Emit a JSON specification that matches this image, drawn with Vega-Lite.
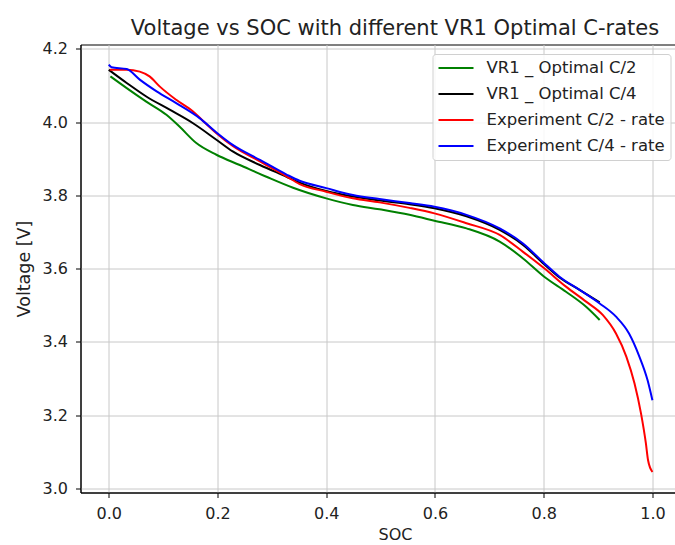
{
  "$schema": "https://vega.github.io/schema/vega-lite/v6.json",
  "autosize": {"type": "none"},
  "padding": {"left": 80.5, "top": 44.5, "right": 0, "bottom": 52.5},
  "width": 629,
  "height": 448,
  "background": "white",
  "config": {
    "font": "DejaVu Sans",
    "view": {"stroke": "#000000", "strokeWidth": 1},
    "axis": {
      "domainColor": "#000000",
      "tickColor": "#000000",
      "tickSize": 5,
      "labelFontSize": 16,
      "labelColor": "#222222",
      "titleFontSize": 16,
      "titleFontWeight": "normal",
      "titleColor": "#222222",
      "gridColor": "#c8c8c8",
      "gridWidth": 1
    }
  },
  "title": {
    "text": "Voltage vs SOC with different VR1 Optimal C-rates",
    "fontSize": 21,
    "fontWeight": "normal",
    "color": "#222222",
    "anchor": "middle",
    "offset": 2
  },
  "data": {
    "values": [
      {"series": "VR1 _ Optimal C/2", "soc": 0.003, "v": 4.125},
      {"series": "VR1 _ Optimal C/2", "soc": 0.033, "v": 4.093},
      {"series": "VR1 _ Optimal C/2", "soc": 0.069, "v": 4.056},
      {"series": "VR1 _ Optimal C/2", "soc": 0.106, "v": 4.020},
      {"series": "VR1 _ Optimal C/2", "soc": 0.130, "v": 3.988},
      {"series": "VR1 _ Optimal C/2", "soc": 0.161, "v": 3.943},
      {"series": "VR1 _ Optimal C/2", "soc": 0.198, "v": 3.911},
      {"series": "VR1 _ Optimal C/2", "soc": 0.241, "v": 3.883},
      {"series": "VR1 _ Optimal C/2", "soc": 0.290, "v": 3.851},
      {"series": "VR1 _ Optimal C/2", "soc": 0.339, "v": 3.821},
      {"series": "VR1 _ Optimal C/2", "soc": 0.400, "v": 3.792},
      {"series": "VR1 _ Optimal C/2", "soc": 0.449, "v": 3.774},
      {"series": "VR1 _ Optimal C/2", "soc": 0.498, "v": 3.762},
      {"series": "VR1 _ Optimal C/2", "soc": 0.553, "v": 3.747},
      {"series": "VR1 _ Optimal C/2", "soc": 0.599, "v": 3.731},
      {"series": "VR1 _ Optimal C/2", "soc": 0.658, "v": 3.710},
      {"series": "VR1 _ Optimal C/2", "soc": 0.719, "v": 3.674},
      {"series": "VR1 _ Optimal C/2", "soc": 0.762, "v": 3.628},
      {"series": "VR1 _ Optimal C/2", "soc": 0.801, "v": 3.578},
      {"series": "VR1 _ Optimal C/2", "soc": 0.841, "v": 3.537},
      {"series": "VR1 _ Optimal C/2", "soc": 0.878, "v": 3.496},
      {"series": "VR1 _ Optimal C/2", "soc": 0.903, "v": 3.460},
      {"series": "VR1 _ Optimal C/4", "soc": 0.000, "v": 4.143},
      {"series": "VR1 _ Optimal C/4", "soc": 0.033, "v": 4.107},
      {"series": "VR1 _ Optimal C/4", "soc": 0.069, "v": 4.070},
      {"series": "VR1 _ Optimal C/4", "soc": 0.112, "v": 4.034},
      {"series": "VR1 _ Optimal C/4", "soc": 0.155, "v": 3.997},
      {"series": "VR1 _ Optimal C/4", "soc": 0.198, "v": 3.952},
      {"series": "VR1 _ Optimal C/4", "soc": 0.228, "v": 3.920},
      {"series": "VR1 _ Optimal C/4", "soc": 0.278, "v": 3.883},
      {"series": "VR1 _ Optimal C/4", "soc": 0.327, "v": 3.851},
      {"series": "VR1 _ Optimal C/4", "soc": 0.351, "v": 3.835},
      {"series": "VR1 _ Optimal C/4", "soc": 0.400, "v": 3.812},
      {"series": "VR1 _ Optimal C/4", "soc": 0.449, "v": 3.797},
      {"series": "VR1 _ Optimal C/4", "soc": 0.498, "v": 3.786},
      {"series": "VR1 _ Optimal C/4", "soc": 0.553, "v": 3.776},
      {"series": "VR1 _ Optimal C/4", "soc": 0.599, "v": 3.765},
      {"series": "VR1 _ Optimal C/4", "soc": 0.658, "v": 3.743},
      {"series": "VR1 _ Optimal C/4", "soc": 0.719, "v": 3.706},
      {"series": "VR1 _ Optimal C/4", "soc": 0.762, "v": 3.665},
      {"series": "VR1 _ Optimal C/4", "soc": 0.801, "v": 3.612},
      {"series": "VR1 _ Optimal C/4", "soc": 0.829, "v": 3.576},
      {"series": "VR1 _ Optimal C/4", "soc": 0.866, "v": 3.542},
      {"series": "VR1 _ Optimal C/4", "soc": 0.903, "v": 3.508},
      {"series": "Experiment C/2 - rate", "soc": 0.002, "v": 4.143},
      {"series": "Experiment C/2 - rate", "soc": 0.033, "v": 4.143},
      {"series": "Experiment C/2 - rate", "soc": 0.057, "v": 4.138},
      {"series": "Experiment C/2 - rate", "soc": 0.075, "v": 4.125},
      {"series": "Experiment C/2 - rate", "soc": 0.094, "v": 4.097},
      {"series": "Experiment C/2 - rate", "soc": 0.124, "v": 4.061},
      {"series": "Experiment C/2 - rate", "soc": 0.155, "v": 4.029},
      {"series": "Experiment C/2 - rate", "soc": 0.173, "v": 4.004},
      {"series": "Experiment C/2 - rate", "soc": 0.198, "v": 3.970},
      {"series": "Experiment C/2 - rate", "soc": 0.228, "v": 3.935},
      {"series": "Experiment C/2 - rate", "soc": 0.278, "v": 3.893},
      {"series": "Experiment C/2 - rate", "soc": 0.327, "v": 3.852},
      {"series": "Experiment C/2 - rate", "soc": 0.351, "v": 3.831},
      {"series": "Experiment C/2 - rate", "soc": 0.400, "v": 3.810},
      {"series": "Experiment C/2 - rate", "soc": 0.449, "v": 3.792},
      {"series": "Experiment C/2 - rate", "soc": 0.498, "v": 3.781},
      {"series": "Experiment C/2 - rate", "soc": 0.553, "v": 3.766},
      {"series": "Experiment C/2 - rate", "soc": 0.599, "v": 3.751},
      {"series": "Experiment C/2 - rate", "soc": 0.658, "v": 3.724},
      {"series": "Experiment C/2 - rate", "soc": 0.719, "v": 3.692},
      {"series": "Experiment C/2 - rate", "soc": 0.762, "v": 3.646},
      {"series": "Experiment C/2 - rate", "soc": 0.801, "v": 3.601},
      {"series": "Experiment C/2 - rate", "soc": 0.841, "v": 3.551},
      {"series": "Experiment C/2 - rate", "soc": 0.878, "v": 3.510},
      {"series": "Experiment C/2 - rate", "soc": 0.909, "v": 3.473},
      {"series": "Experiment C/2 - rate", "soc": 0.933, "v": 3.423},
      {"series": "Experiment C/2 - rate", "soc": 0.952, "v": 3.360},
      {"series": "Experiment C/2 - rate", "soc": 0.967, "v": 3.287},
      {"series": "Experiment C/2 - rate", "soc": 0.979, "v": 3.205},
      {"series": "Experiment C/2 - rate", "soc": 0.988, "v": 3.123},
      {"series": "Experiment C/2 - rate", "soc": 0.992, "v": 3.077},
      {"series": "Experiment C/2 - rate", "soc": 1.000, "v": 3.045},
      {"series": "Experiment C/4 - rate", "soc": 0.000, "v": 4.157},
      {"series": "Experiment C/4 - rate", "soc": 0.005, "v": 4.150},
      {"series": "Experiment C/4 - rate", "soc": 0.033, "v": 4.145},
      {"series": "Experiment C/4 - rate", "soc": 0.057, "v": 4.116},
      {"series": "Experiment C/4 - rate", "soc": 0.088, "v": 4.084},
      {"series": "Experiment C/4 - rate", "soc": 0.124, "v": 4.052},
      {"series": "Experiment C/4 - rate", "soc": 0.167, "v": 4.011},
      {"series": "Experiment C/4 - rate", "soc": 0.198, "v": 3.972},
      {"series": "Experiment C/4 - rate", "soc": 0.228, "v": 3.938},
      {"series": "Experiment C/4 - rate", "soc": 0.278, "v": 3.897},
      {"series": "Experiment C/4 - rate", "soc": 0.327, "v": 3.857},
      {"series": "Experiment C/4 - rate", "soc": 0.351, "v": 3.840},
      {"series": "Experiment C/4 - rate", "soc": 0.400, "v": 3.820},
      {"series": "Experiment C/4 - rate", "soc": 0.449, "v": 3.801},
      {"series": "Experiment C/4 - rate", "soc": 0.498, "v": 3.790},
      {"series": "Experiment C/4 - rate", "soc": 0.553, "v": 3.779},
      {"series": "Experiment C/4 - rate", "soc": 0.599, "v": 3.769},
      {"series": "Experiment C/4 - rate", "soc": 0.658, "v": 3.747},
      {"series": "Experiment C/4 - rate", "soc": 0.719, "v": 3.710},
      {"series": "Experiment C/4 - rate", "soc": 0.762, "v": 3.669},
      {"series": "Experiment C/4 - rate", "soc": 0.801, "v": 3.615},
      {"series": "Experiment C/4 - rate", "soc": 0.829, "v": 3.578},
      {"series": "Experiment C/4 - rate", "soc": 0.866, "v": 3.542},
      {"series": "Experiment C/4 - rate", "soc": 0.903, "v": 3.505},
      {"series": "Experiment C/4 - rate", "soc": 0.933, "v": 3.469},
      {"series": "Experiment C/4 - rate", "soc": 0.957, "v": 3.423},
      {"series": "Experiment C/4 - rate", "soc": 0.976, "v": 3.360},
      {"series": "Experiment C/4 - rate", "soc": 0.991, "v": 3.296},
      {"series": "Experiment C/4 - rate", "soc": 1.000, "v": 3.241}
    ]
  },
  "mark": {"type": "line", "strokeWidth": 2, "interpolate": "monotone"},
  "encoding": {
    "x": {
      "field": "soc",
      "type": "quantitative",
      "title": "SOC",
      "scale": {"domain": [-0.052, 1.105], "nice": false, "zero": false},
      "axis": {"values": [0, 0.2, 0.4, 0.6, 0.8, 1.0], "format": ".1f", "labelPadding": 8, "titlePadding": 5}
    },
    "y": {
      "field": "v",
      "type": "quantitative",
      "title": "Voltage [V]",
      "scale": {"domain": [2.989, 4.212], "nice": false, "zero": false},
      "axis": {"values": [3.0, 3.2, 3.4, 3.6, 3.8, 4.0, 4.2], "format": ".1f", "labelPadding": 8, "titlePadding": 9, "titleFontSize": 17.5}
    },
    "color": {
      "field": "series",
      "type": "nominal",
      "scale": {
        "domain": ["VR1 _ Optimal C/2", "VR1 _ Optimal C/4", "Experiment C/2 - rate", "Experiment C/4 - rate"],
        "range": ["#008000", "#000000", "#ff0000", "#0000ff"]
      },
      "legend": {
        "title": null,
        "orient": "none",
        "legendX": 352,
        "legendY": 9.5,
        "padding": 5,
        "fillColor": "rgba(255,255,255,0.85)",
        "strokeColor": "#d0d0d0",
        "cornerRadius": 3,
        "symbolType": "M-1,0H3.375",
        "symbolSize": 256,
        "symbolStrokeWidth": 2,
        "labelFontSize": 16.5,
        "labelColor": "#222222",
        "labelOffset": 31,
        "rowPadding": 8,
        "labelLimit": 300
      }
    }
  }
}
